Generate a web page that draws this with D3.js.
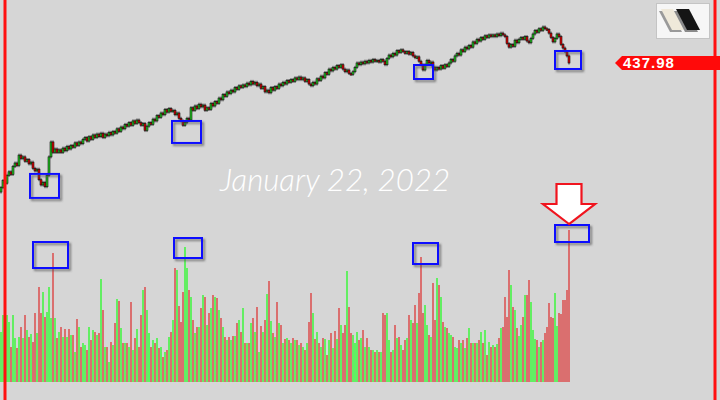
<!DOCTYPE html>
<html>
<head>
<meta charset="utf-8">
<script src="https://cdn.jsdelivr.net/npm/d3@7"></script>
<style>
  html, body { margin: 0; padding: 0; background: #d6d6d6; }
  svg { display: block; }
</style>
</head>
<body>
<div class="chart"></div>
<script>
// daily closes, one per session
const firstOpen = 291;
const closes = [
  296, 304, 301, 310, 314, 311, 320, 324, 321, 333,
  329, 331, 326, 328, 323, 325, 318, 315, 317, 305,
  299, 302, 297, 310, 331, 348, 336, 340, 336, 339,
  336, 341, 338, 343, 340, 344, 342, 347, 344, 348,
  346, 351, 353, 349, 354, 351, 356, 353, 357, 354,
  358, 353, 357, 355, 359, 356, 360, 358, 363, 360,
  365, 363, 368, 366, 370, 367, 372, 369, 373, 370,
  367, 369, 361, 366, 370, 368, 374, 372, 378, 376,
  381, 379, 385, 382, 386, 383, 384, 379, 381, 375,
  372, 367, 370, 375, 373, 387, 384, 389, 386, 391,
  388, 390, 384, 387, 385, 392, 389, 394, 392, 398,
  396, 402, 400, 405, 403, 407, 405, 410, 408, 412,
  410, 413, 411, 415, 413, 417, 414, 416, 412, 414,
  409, 411, 405, 407, 404, 410, 407, 411, 409, 414,
  412, 416, 414, 418, 416, 419, 417, 421, 419, 422,
  419, 421, 417, 419, 414, 412, 416, 414, 420, 418,
  423, 421, 427, 425, 431, 429, 433, 431, 435, 433,
  436, 431, 428, 430, 426, 425, 428, 433, 438, 436,
  439, 437, 440, 438, 441, 439, 442, 440, 441, 439,
  442, 440, 436, 443, 447, 445, 449, 447, 452, 450,
  453, 451, 449, 451, 448, 450, 446, 444, 445, 440,
  436, 430, 436, 441, 438, 439, 433, 430, 433, 431,
  435, 432, 436, 434, 438, 442, 440, 446, 449, 447,
  453, 451, 456, 454, 458, 456, 462, 460, 465, 463,
  467, 465, 469, 467, 470, 468, 470, 468, 471, 469,
  472, 470, 468, 460, 456, 459, 457, 464, 461, 465,
  467, 465, 468, 463, 461, 466, 471, 475, 473, 477,
  475, 479, 477, 476, 472, 467, 462, 466, 471, 468,
  459, 455, 451, 446, 437.98
];

// volume in millions
const volumes = [
  50, 67, 67, 67, 60, 35, 67, 44, 34, 45,
  55, 44, 67, 52, 45, 48, 40, 69, 49, 95,
  69, 90, 65, 70, 95, 64, 129, 64, 44, 50,
  55, 45, 53, 45, 53, 47, 47, 30, 63, 55,
  35, 39, 37, 32, 55, 42, 52, 50, 47, 49,
  103, 72, 35, 35, 20, 40, 37, 59, 83, 81,
  54, 39, 39, 39, 35, 80, 32, 44, 53, 35,
  67, 92, 95, 72, 49, 35, 42, 39, 44, 34,
  35, 25, 30, 32, 45, 50, 62, 114, 112, 76,
  60, 90, 135, 114, 92, 85, 62, 49, 55, 55,
  74, 87, 85, 57, 69, 74, 87, 85, 84, 72,
  64, 55, 45, 42, 45, 42, 46, 46, 59, 62,
  50, 74, 39, 39, 39, 59, 64, 50, 75, 30,
  56, 50, 62, 88, 101, 61, 49, 45, 80, 59,
  57, 39, 43, 44, 42, 39, 44, 42, 42, 37,
  39, 35, 32, 39, 60, 89, 69, 43, 50, 39,
  35, 44, 43, 27, 42, 49, 34, 51, 43, 74,
  57, 49, 57, 111, 75, 49, 47, 39, 50, 42,
  44, 52, 35, 44, 35, 32, 32, 30, 32, 30,
  30, 69, 67, 69, 42, 30, 32, 57, 44, 45,
  37, 32, 42, 44, 67, 62, 59, 77, 59, 89,
  125, 69, 77, 57, 47, 45, 99, 62, 104, 97,
  85, 60, 55, 54, 49, 47, 45, 35, 34, 42,
  39, 42, 34, 44, 54, 39, 39, 39, 39, 42,
  50, 39, 52, 27, 40, 35, 37, 35, 38, 44,
  54, 55, 85, 65, 112, 97, 75, 72, 54, 46,
  57, 65, 87, 87, 102, 80, 52, 43, 42, 35,
  40, 42, 49, 55, 79, 65, 64, 89, 56, 69,
  68, 82, 82, 92, 152
];

// highlighted spots: session index and value at the box centre
const priceMarks = [
  { day: 21.75, price: 297.9, w: 29, h: 24 },
  { day: 92.75, price: 359.4, w: 29, h: 22 },
  { day: 211.25, price: 427.7, w: 19, h: 14 },
  { day: 283.5, price: 441.4, w: 26, h: 18 }
];
const volumeMarks = [
  { day: 24.75, vol: 127, w: 35, h: 26 },
  { day: 93.5, vol: 134, w: 28, h: 20 },
  { day: 212.25, vol: 128.5, w: 25, h: 21 },
  { day: 285.5, vol: 148.5, w: 34, h: 17 }
];

const dateLabel = 'January 22, 2022';
const lastPriceLabel = '437.98';

const width = 720;
const height = 400;
const upColor = '#1ec81e';
const downColor = '#e00000';

const candles = closes.map((c, i) => {
  const o = i === 0 ? firstOpen : closes[i - 1];
  return { i, o, c, up: c >= o, vol: volumes[i] };
});

const x = d3.scaleLinear().domain([0, closes.length - 1]).range([1, 569]);
const y = d3.scaleLinear().domain([300, 480]).range([184.1, 26.1]);
const yVol = d3.scaleLinear().domain([0, 160]).range([382, 222]);

const svg = d3.select('.chart')
  .append('svg')
  .attr('width', width)
  .attr('height', height);

const defs = svg.append('defs');
const shadow = defs.append('filter')
  .attr('id', 'shadow')
  .attr('x', '-30%').attr('y', '-30%')
  .attr('width', '160%').attr('height', '160%');
shadow.append('feDropShadow')
  .attr('dx', 2).attr('dy', 2)
  .attr('stdDeviation', 1.2)
  .attr('flood-color', '#555')
  .attr('flood-opacity', 0.7);

svg.append('rect')
  .attr('width', width)
  .attr('height', height)
  .attr('fill', '#d6d6d6');

// volume
svg.append('g')
  .selectAll('rect')
  .data(candles)
  .enter()
    .append('rect')
    .attr('x', d => x(d.i) - 0.7)
    .attr('width', 1.4)
    .attr('y', d => yVol(d.vol))
    .attr('height', d => yVol(0) - yVol(d.vol))
    .attr('fill', d => d.up ? '#33f833' : '#dd2a2a')
    .attr('opacity', d => d.up ? 1 : 0.85);

// candles
const candle = svg.append('g')
  .selectAll('g')
  .data(candles)
  .enter()
    .append('g');

candle.append('line')
  .attr('x1', d => x(d.i))
  .attr('x2', d => x(d.i))
  .attr('y1', d => y(Math.max(d.o, d.c)) - 1.5)
  .attr('y2', d => y(Math.min(d.o, d.c)) + 1.5)
  .attr('stroke', '#111')
  .attr('stroke-width', 0.8);

candle.append('rect')
  .attr('x', d => x(d.i) - 1)
  .attr('width', 2)
  .attr('y', d => y(Math.max(d.o, d.c)))
  .attr('height', d => Math.max(1.5, Math.abs(y(d.o) - y(d.c))))
  .attr('fill', d => d.up ? upColor : downColor)
  .attr('stroke', '#111')
  .attr('stroke-width', 0.6);

// blue highlight boxes
const boxes = svg.append('g')
  .attr('fill', 'none')
  .attr('stroke', '#1010ff')
  .attr('stroke-width', 2)
  .attr('filter', 'url(#shadow)');

boxes.selectAll('.pbox')
  .data(priceMarks)
  .enter()
    .append('rect')
    .attr('class', 'pbox')
    .attr('x', d => x(d.day) - d.w / 2)
    .attr('y', d => y(d.price) - d.h / 2)
    .attr('width', d => d.w)
    .attr('height', d => d.h);

boxes.selectAll('.vbox')
  .data(volumeMarks)
  .enter()
    .append('rect')
    .attr('class', 'vbox')
    .attr('x', d => x(d.day) - d.w / 2)
    .attr('y', d => yVol(d.vol) - d.h / 2)
    .attr('width', d => d.w)
    .attr('height', d => d.h);

// down arrow over the last session's volume
const last = candles[candles.length - 1];
const tipX = x(last.i);
const tipY = yVol(volumeMarks[3].vol) - volumeMarks[3].h / 2 - 1;
const arrowPts = [
  [0, 0], [-26, -20], [-12.5, -20], [-12.5, -40],
  [12.5, -40], [12.5, -20], [26, -20]
];
svg.append('polygon')
  .attr('points', arrowPts.map(p => [tipX + p[0], tipY + p[1]].join(',')).join(' '))
  .attr('fill', '#fff')
  .attr('stroke', '#f0141e')
  .attr('stroke-width', 2.2)
  .attr('stroke-linejoin', 'miter');

// date caption
svg.append('text')
  .attr('x', 335)
  .attr('y', 191)
  .attr('text-anchor', 'middle')
  .attr('font-family', 'Lato, "Open Sans", sans-serif')
  .attr('font-style', 'italic')
  .attr('font-weight', 300)
  .attr('font-size', 31)
  .attr('textLength', 230)
  .attr('lengthAdjust', 'spacingAndGlyphs')
  .attr('fill', '#ffffff')
  .text(dateLabel);

// side rules
svg.append('rect')
  .attr('x', 3.5).attr('y', 0)
  .attr('width', 3).attr('height', height)
  .attr('fill', '#ff1010');
svg.append('rect')
  .attr('x', 713.5).attr('y', 0)
  .attr('width', 3).attr('height', height)
  .attr('fill', '#ff1010');

// last price tag
const tagY = y(last.c);
svg.append('polygon')
  .attr('points', [[615, tagY], [622, tagY - 7], [720, tagY - 7], [720, tagY + 7], [622, tagY + 7]].map(p => p.join(',')).join(' '))
  .attr('fill', '#ff0a0a');
svg.append('text')
  .attr('x', 623)
  .attr('y', tagY + 5.5)
  .attr('font-family', '"Liberation Sans", Arial, sans-serif')
  .attr('font-weight', 'bold')
  .attr('font-size', 15)
  .attr('letter-spacing', 1)
  .attr('fill', '#fff')
  .text(lastPriceLabel);

// logo
const logo = svg.append('g');
logo.append('rect')
  .attr('x', 656.5).attr('y', 3.5)
  .attr('width', 53).attr('height', 35)
  .attr('fill', '#f6f6f6')
  .attr('stroke', '#c4c4c4')
  .attr('stroke-width', 1);
const para = (x0, w) => [[x0, 9], [x0 + w, 9], [x0 + w + 11, 30], [x0 + 11, 30]]
  .map(p => p.join(',')).join(' ');
logo.append('polygon').attr('points', para(661, 12)).attr('fill', '#9a9a9a').attr('transform', 'translate(-2,2)');
logo.append('polygon').attr('points', para(661, 12)).attr('fill', '#efe9da');
logo.append('polygon').attr('points', para(676, 13)).attr('fill', '#8a8a8a').attr('transform', 'translate(-2,2)');
logo.append('polygon').attr('points', para(676, 13)).attr('fill', '#151515');
</script>
</body>
</html>
